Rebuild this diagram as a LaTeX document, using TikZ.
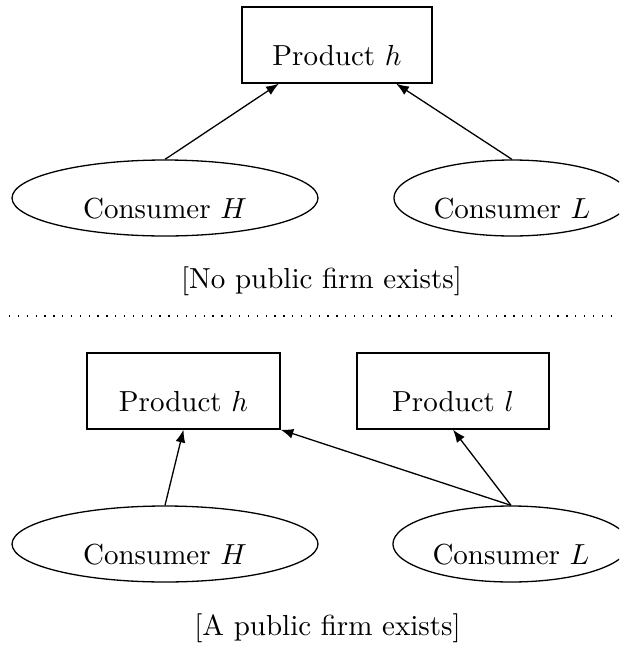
\documentclass[tikz,border=0pt]{standalone}
\usetikzlibrary{shapes.geometric,arrows.meta}
\tikzset{
  px/.style={x=0.3448pt,y=-0.3448pt},
  prodbox/.style={draw,rectangle,inner sep=0pt,minimum height=26.2pt,
    text height=20pt,text depth=6.2pt,line width=0.45pt},
  consell/.style={draw,ellipse,inner sep=0pt,minimum height=26.2pt,
    text height=13.8pt,text depth=0pt,line width=0.45pt},
  caption/.style={anchor=base,inner sep=0pt},
  conn/.style={-{Latex[length=4.4pt,width=3.4pt]},line width=0.45pt},
  sep/.style={line width=0.45pt,dash pattern=on 0.45pt off 2.6pt}
}
\begin{document}
\begin{tikzpicture}[px]
\useasboundingbox (0,0) rectangle (619,648);
\clip (0,0) rectangle (619,648);
% top part
\node[prodbox,minimum width=65.5pt] (P1) at (337,45) {Product $h$};
\node[consell,minimum width=105.5pt] (H1) at (165,198) {Consumer $H$};
\node[consell,minimum width=81.4pt] (L1) at (512,198) {Consumer $L$};
\draw[conn] (H1.north) -- (P1);
\draw[conn] (L1.north) -- (P1);
\node[caption] (C1) at (321.5,288) {[No public firm exists]};
% separator
\coordinate (S1) at (9,316);
\coordinate (S2) at (619,316);
\draw[sep] (S1) -- (S2);
% bottom part
\node[prodbox,minimum width=66.5pt] (P2) at (183.5,391) {Product $h$};
\node[prodbox,minimum width=66.2pt] (P3) at (453,391) {Product $l$};
\node[consell,minimum width=105.5pt] (H2) at (165,544) {Consumer $H$};
\node[consell,minimum width=81.4pt] (L2) at (511,544) {Consumer $L$};
\draw[conn] (H2.north) -- (P2.south);
\draw[conn] (L2.north) -- (P2.south east);
\draw[conn] (L2.north) -- (P3.south);
\node[caption] (C2) at (327.5,635) {[A public firm exists]};
\end{tikzpicture}
\end{document}
